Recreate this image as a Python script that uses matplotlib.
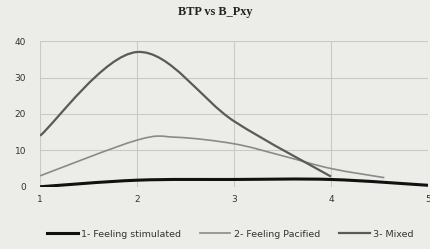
import numpy as np
import matplotlib.pyplot as plt
from matplotlib.path import Path
from matplotlib.patches import PathPatch

# data
x_stim = [1, 2, 3, 4, 5]
y_stim = [0.0, 1.8, 2.0, 2.0, 0.4]

x_pac = [1, 2, 2.4, 3, 3.5, 4, 4.55]
y_pac = [3.0, 12.8, 13.6, 11.8, 8.5, 5.0, 2.5]

x_mix = [1, 2, 3, 4]
y_mix = [14.0, 37.0, 18.0, 2.8]

labels = ["1- Feeling stimulated", "2- Feeling Pacified", "3- Mixed"]
xticks = [1, 2, 3, 4, 5]
yticks = [0, 10, 20, 30, 40]


def smooth_path(xs, ys, t=1 / 6):
    # Excel style smoothed line: bezier through the points
    xs = np.asarray(xs, float)
    ys = np.asarray(ys, float)
    pts = np.column_stack([xs, ys])
    verts = [pts[0]]
    codes = [Path.MOVETO]
    n = len(pts)
    for i in range(n - 1):
        p0 = pts[i - 1] if i > 0 else pts[i]
        p1 = pts[i]
        p2 = pts[i + 1]
        p3 = pts[i + 2] if i + 2 < n else pts[i + 1]
        c1 = p1 + (p2 - p0) * t
        c2 = p2 - (p3 - p1) * t
        verts += [c1, c2, p2]
        codes += [Path.CURVE4] * 3
    return Path(verts, codes)


bg = "#ecece9"
fig = plt.figure(figsize=(4.31, 2.49), dpi=100, facecolor=bg)
ax = fig.add_axes([0.093, 0.25, 0.90, 0.585], facecolor=bg)

series = [
    (x_stim, y_stim, "#111111", 2.2),
    (x_pac, y_pac, "#8a8a8a", 1.2),
    (x_mix, y_mix, "#5a5a5a", 1.6),
]
for (xs, ys, c, lw), lab in zip(series, labels):
    ax.add_patch(PathPatch(smooth_path(xs, ys), fill=False, edgecolor=c, lw=lw, zorder=3))
    ax.plot([], [], color=c, lw=lw, label=lab)

ax.set_xlim(1, 5)
ax.set_ylim(0, 40)
ax.set_xticks(xticks)
ax.set_yticks(yticks)
ax.grid(True, color="#c9c9c6", lw=0.8)
for s in ax.spines.values():
    s.set_visible(False)
ax.tick_params(length=0, labelsize=6.5, colors="#333333", pad=6)
ax.tick_params(axis="y", pad=10)

fig.text(0.5, 0.95, "BTP vs B_Pxy", ha="center", va="center",
         fontsize=8.8, fontweight="bold", family="Liberation Serif", color="#222222")

fig.legend(loc="center", bbox_to_anchor=(0.535, 0.06), ncol=3, frameon=False,
           fontsize=6.8, handlelength=3.2, columnspacing=2.0, handletextpad=0.4,
           labelcolor="#333333")

fig.savefig("out.png", dpi=100, facecolor=bg)
